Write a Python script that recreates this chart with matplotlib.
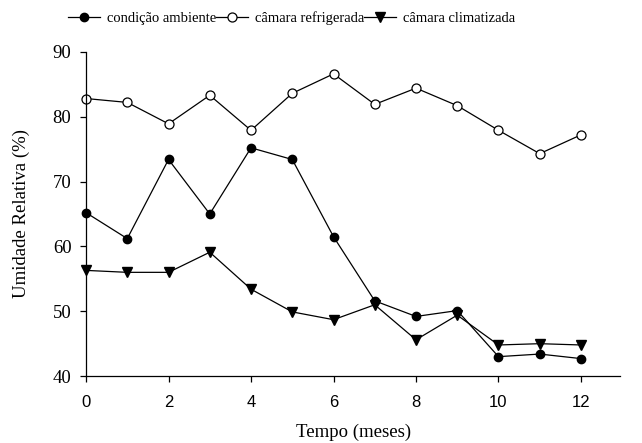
import matplotlib.pyplot as plt

meses = list(range(13))
ambiente = [65.2, 61.2, 73.4, 65.0, 75.2, 73.4, 61.5, 51.6, 49.2, 50.1, 43.0, 43.4, 42.7]
refrigerada = [82.8, 82.2, 78.9, 83.3, 77.9, 83.6, 86.6, 81.9, 84.4, 81.7, 77.9, 74.3, 77.2]
climatizada = [56.3, 56.0, 56.0, 59.1, 53.4, 49.9, 48.7, 51.0, 45.6, 49.4, 44.8, 45.0, 44.8]

serif = 'Liberation Serif'
sans = 'Liberation Sans'

fig = plt.figure(figsize=(6.42, 4.43), dpi=100)
ax = fig.add_axes([0.134, 0.151, 0.832, 0.732])

ax.plot(meses, ambiente, color='black', lw=0.9, marker='o', ms=6,
        mfc='black', mec='black', label='condição ambiente')
ax.plot(meses, refrigerada, color='black', lw=0.9, marker='o', ms=6.5,
        mfc='white', mec='black', mew=0.9, label='câmara refrigerada')
ax.plot(meses, climatizada, color='black', lw=0.9, marker='v', ms=7,
        mfc='black', mec='black', label='câmara climatizada')

ax.set_xlim(0, 12.95)
ax.set_ylim(40, 90)
ax.set_xticks([0, 2, 4, 6, 8, 10, 12])
ax.set_yticks([40, 50, 60, 70, 80, 90])
ax.spines['top'].set_visible(False)
ax.spines['right'].set_visible(False)
for s in ['left', 'bottom']:
    ax.spines[s].set_linewidth(0.9)
ax.tick_params(direction='out', length=4.5, width=0.9)
ax.tick_params(axis='x', pad=9)
ax.tick_params(axis='y', pad=6)
for line in ax.lines:
    line.set_clip_on(False)

for lbl in ax.get_xticklabels():
    lbl.set_fontfamily(sans)
    lbl.set_fontsize(12)
for lbl in ax.get_yticklabels():
    lbl.set_fontfamily(serif)
    lbl.set_fontsize(13.5)

ax.set_xlabel('Tempo (meses)', fontfamily=serif, fontsize=13.5, labelpad=10)
ax.set_ylabel('Umidade Relativa (%)', fontfamily=serif, fontsize=13.5, labelpad=16)

leg = ax.legend(loc='lower center', bbox_to_anchor=(0.385, 1.065), ncol=3,
                frameon=False, prop={'family': serif, 'size': 10.5},
                handlelength=2.2, columnspacing=0.0, handletextpad=0.45,
                borderaxespad=0.0)

fig.savefig('out.png', dpi=100)
